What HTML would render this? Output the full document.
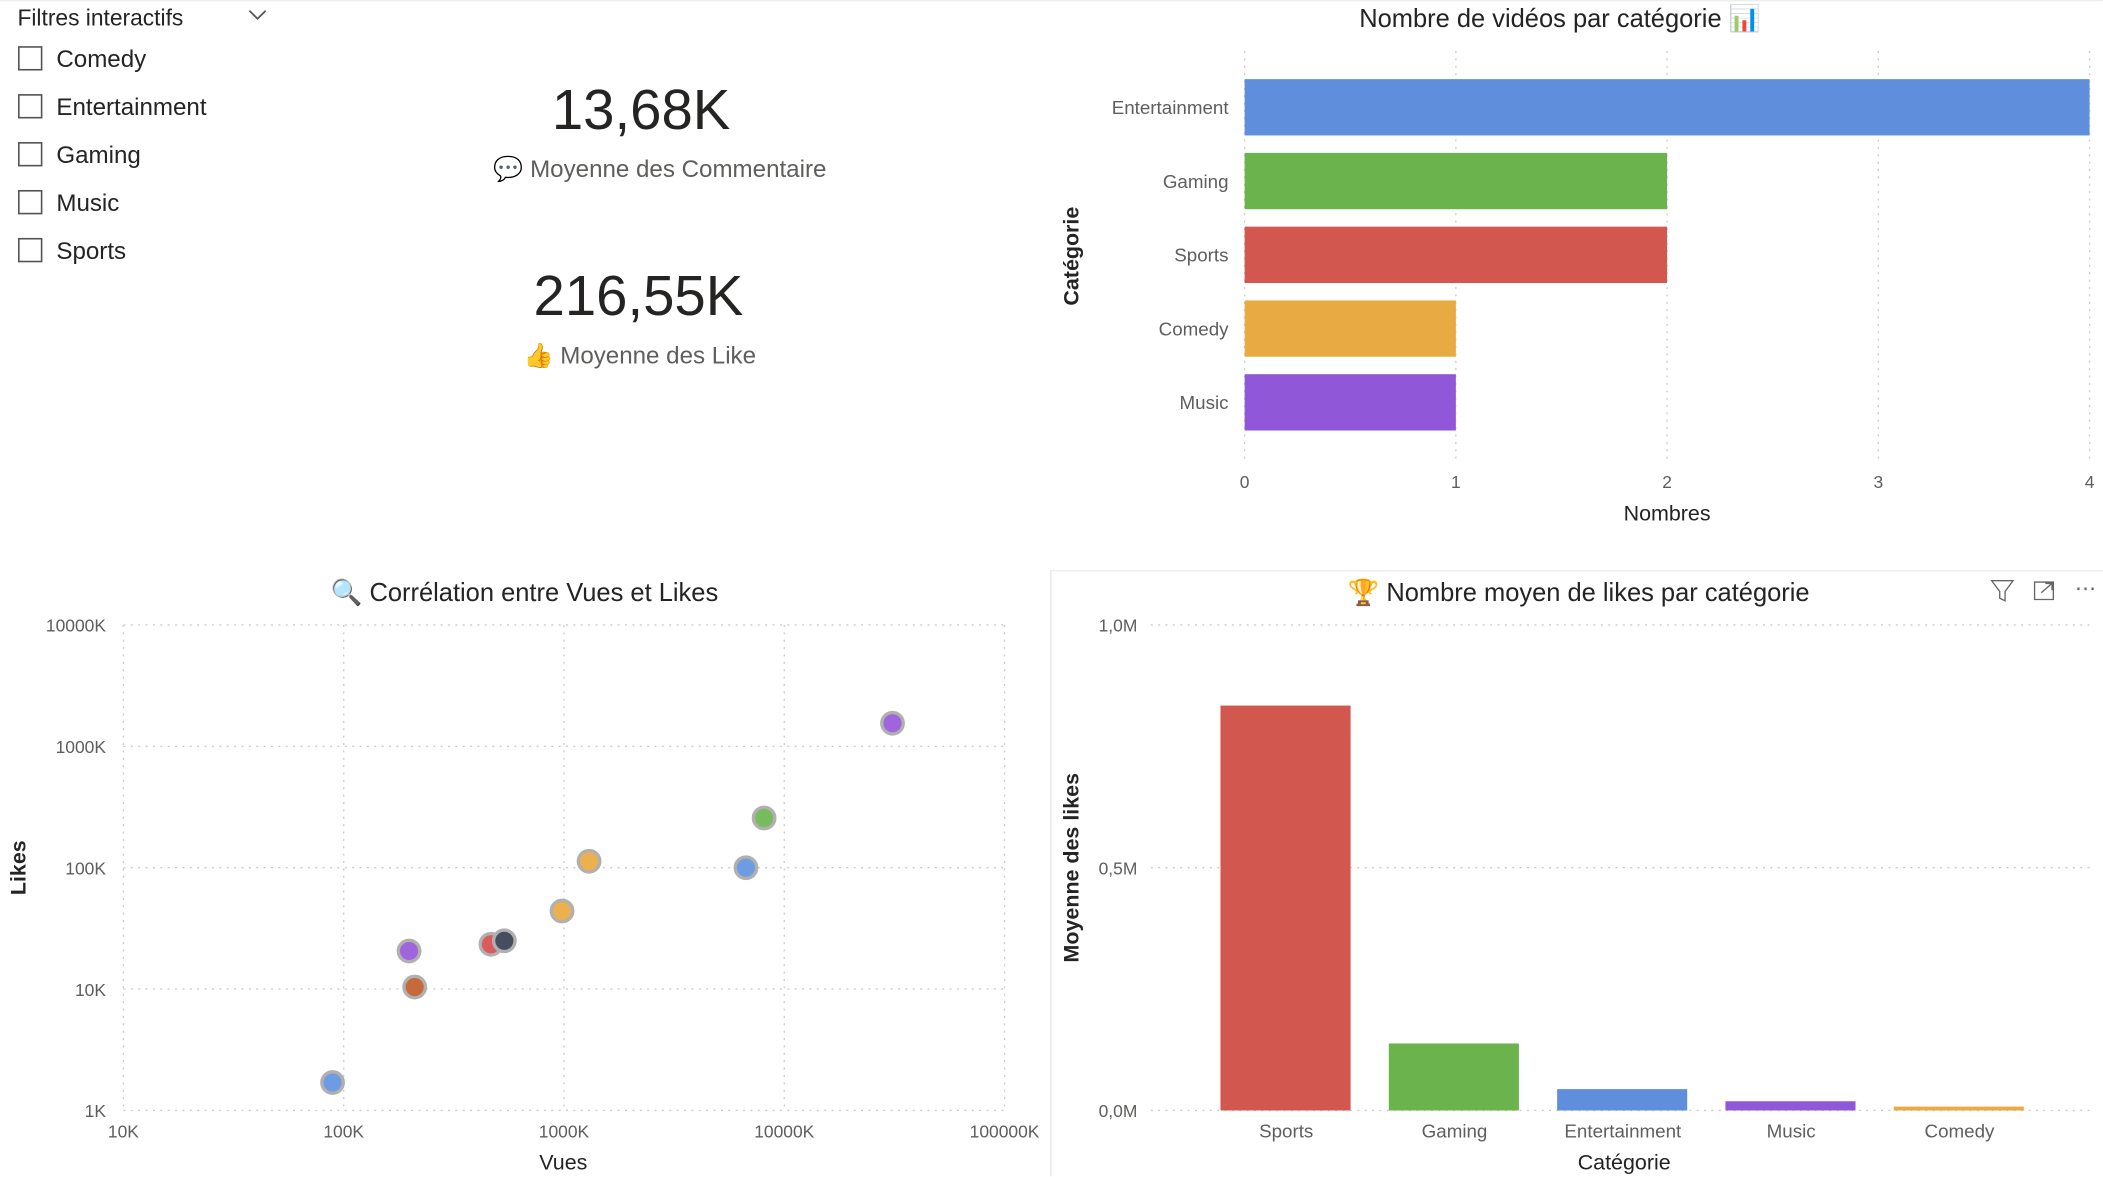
<!DOCTYPE html>
<html><head><meta charset="utf-8"><style>
html,body{margin:0;padding:0;background:#fff;}
svg{display:block;font-family:"Liberation Sans","DejaVu Sans",sans-serif;}
</style></head><body>
<svg id="root" width="2103" height="1177" viewBox="0 0 1568 877.6" xmlns="http://www.w3.org/2000/svg">
<line x1="0" y1="0.5" x2="1568" y2="0.5" stroke="#eee"/>
<g>
  <text x="13" y="19" font-size="17" fill="#252423">Filtres interactifs</text>
  <path d="M186 8 L192 14 L198 8" fill="none" stroke="#555" stroke-width="1.3"/>
  <g id="slicer-items"></g>
</g>
<g>
  <text x="478" y="96" font-size="42" text-anchor="middle" fill="#252423">13,68K</text>
  <text x="492" y="132" font-size="18" text-anchor="middle" fill="#605e5c">💬 Moyenne des Commentaire</text>
</g>
<g>
  <text x="476" y="235" font-size="42" text-anchor="middle" fill="#252423">216,55K</text>
  <text x="477" y="271" font-size="18" text-anchor="middle" fill="#605e5c">👍 Moyenne des Like</text>
</g>
<g id="hbar">
  <text x="1163" y="20" font-size="19" text-anchor="middle" fill="#252423">Nombre de vidéos par catégorie 📊</text>
  <text x="1243" y="388" font-size="16" text-anchor="middle" fill="#252423">Nombres</text>
  <text transform="translate(804,191) rotate(-90)" font-size="16" font-weight="bold" text-anchor="middle" fill="#252423">Catégorie</text>
</g>
<g id="scatter">
  <text x="391" y="448" font-size="19" text-anchor="middle" fill="#252423">🔍 Corrélation entre Vues et Likes</text>
  <text x="420" y="872" font-size="16" text-anchor="middle" fill="#252423">Vues</text>
  <text transform="translate(19,647) rotate(-90)" font-size="16" font-weight="bold" text-anchor="middle" fill="#252423">Likes</text>
</g>
<g id="col">
  <line x1="783.5" y1="425" x2="783.5" y2="877" stroke="#e6e6e6"/>
  <line x1="783" y1="425.5" x2="1568" y2="425.5" stroke="#eee"/>
  <text x="1177" y="448" font-size="19" text-anchor="middle" fill="#252423">🏆 Nombre moyen de likes par catégorie</text>
  <path d="M1485 433 L1501 433 L1495 441 L1495 448 L1491 446 L1491 441 Z" fill="none" stroke="#666" stroke-width="1"/>
  <path d="M1517 434 L1517 447 L1531 447 L1531 434 Z M1522 442 L1530 435 M1525 435 L1530 435 L1530 440" fill="none" stroke="#666" stroke-width="1"/>
  <text x="1555" y="444" font-size="16" text-anchor="middle" fill="#666">⋯</text>
  <text x="1211" y="872" font-size="16" text-anchor="middle" fill="#252423">Catégorie</text>
  <text transform="translate(804,647) rotate(-90)" font-size="16" font-weight="bold" text-anchor="middle" fill="#252423">Moyenne des likes</text>
</g>
</svg>
<script>
const NS="http://www.w3.org/2000/svg";
// slicer
const slicerItems=["Comedy","Entertainment","Gaming","Music","Sports"];
// horizontal bar chart
const hbarCategories=["Entertainment","Gaming","Sports","Comedy","Music"];
const hbarValues=[4,2,2,1,1];
const hbarTicks=[0,1,2,3,4];
const hbarColors=["#5f8fdc","#6ab34d","#d1574f","#e8aa42","#9058d8"];
// scatter (views, likes)
const scatterViews=[89000,198000,210000,466000,536000,980000,1300000,6700000,8100000,31000000];
const scatterLikes=[1700,20600,10400,23400,25000,44000,113000,100000,257000,1550000];
const scatterColors=["#6f9be3","#a064dc","#c8693a","#d95b5b","#454e5e","#edb04f","#edb04f","#6f9be3","#77bb5c","#a064dc"];
const scatterXTicks=[10000,100000,1000000,10000000,100000000];
const scatterXTickLabels=["10K","100K","1000K","10000K","100000K"];
const scatterYTicks=[1000,10000,100000,1000000,10000000];
const scatterYTickLabels=["1K","10K","100K","1000K","10000K"];
// column chart
const colCategories=["Sports","Gaming","Entertainment","Music","Comedy"];
const colValues=[834000,138000,44000,19000,8000];
const colColors=["#d1574f","#6ab34d","#5f8fdc","#9058d8","#e8aa42"];
const colTicks=[0,500000,1000000];
const colTickLabels=["0,0M","0,5M","1,0M"];

function mk(tag,attrs,parent,text){const e=document.createElementNS(NS,tag);for(const k in attrs)e.setAttribute(k,attrs[k]);if(text!==undefined)e.textContent=text;parent.appendChild(e);return e;}

// slicer
const si=document.getElementById('slicer-items');
slicerItems.forEach((s,i)=>{
  const y=43+i*35.75;
  const b=mk('rect',{x:14,y:y-8,width:17,height:17,fill:'#fff',stroke:'#555','stroke-width':1.2},si);
  
  
  const t=mk('text',{x:42,y:y+7,'font-size':18,fill:'#252423'},si,s);
  
  
});

// hbar
const hb=document.getElementById('hbar');
const hx=v=>928+v*157.5;
const hy=i=>59+i*55;
hbarTicks.forEach(t=>{
  const l=mk('line',{x1:hx(t),x2:hx(t),y1:38,y2:342,stroke:'#ccc','stroke-dasharray':'1.5 4'},hb);
  
  
  const tx=mk('text',{x:hx(t),y:364,'font-size':13,'text-anchor':'middle',fill:'#605e5c'},hb,String(t));
  
  
});
hbarCategories.forEach((c,i)=>{
  const r=mk('rect',{x:hx(0),y:hy(i),width:hx(hbarValues[i])-hx(0),height:42,fill:hbarColors[i]},hb);
  
  
  const t=mk('text',{x:916,y:hy(i)+26,'font-size':14,'text-anchor':'end',fill:'#605e5c'},hb,c);
  
  
});

// scatter
const sc=document.getElementById('scatter');
const sx=v=>92+(Math.log10(v)-4)*164.25;
const sy=v=>828-(Math.log10(v)-3)*90.5;
scatterXTicks.forEach((t,i)=>{
  const l=mk('line',{x1:sx(t),x2:sx(t),y1:466,y2:828,stroke:'#ccc','stroke-dasharray':'1.5 4'},sc);
  
  
  const tx=mk('text',{x:sx(t),y:848,'font-size':13,'text-anchor':'middle',fill:'#605e5c'},sc,scatterXTickLabels[i]);
  
  
});
scatterYTicks.forEach((t,i)=>{
  const l=mk('line',{x1:92,x2:749,y1:sy(t),y2:sy(t),stroke:'#ccc','stroke-dasharray':'1.5 4'},sc);
  
  
  const tx=mk('text',{x:79,y:sy(t)+5,'font-size':13,'text-anchor':'end',fill:'#605e5c'},sc,scatterYTickLabels[i]);
  
  
});
scatterViews.forEach((v,i)=>{
  const c=mk('circle',{cx:sx(v),cy:sy(scatterLikes[i]),r:8,fill:scatterColors[i],stroke:'#b0b0b0','stroke-width':2.5},sc);
  
  
});

// column chart
const cg=document.getElementById('col');
const cy=v=>828-v/1000000*362;
const cx=i=>910+i*125.5;
colTicks.forEach((t,i)=>{
  const l=mk('line',{x1:858,x2:1558,y1:cy(t),y2:cy(t),stroke:'#ccc','stroke-dasharray':'1.5 4'},cg);
  
  
  const tx=mk('text',{x:848,y:cy(t)+5,'font-size':13,'text-anchor':'end',fill:'#605e5c'},cg,colTickLabels[i]);
  
  
});
colCategories.forEach((c,i)=>{
  const r=mk('rect',{x:cx(i),y:cy(colValues[i]),width:97,height:cy(0)-cy(colValues[i]),fill:colColors[i]},cg);
  
  
  const t=mk('text',{x:cx(i)+49,y:848,'font-size':14,'text-anchor':'middle',fill:'#605e5c'},cg,c);
  
  
});
</script>
</body></html>
